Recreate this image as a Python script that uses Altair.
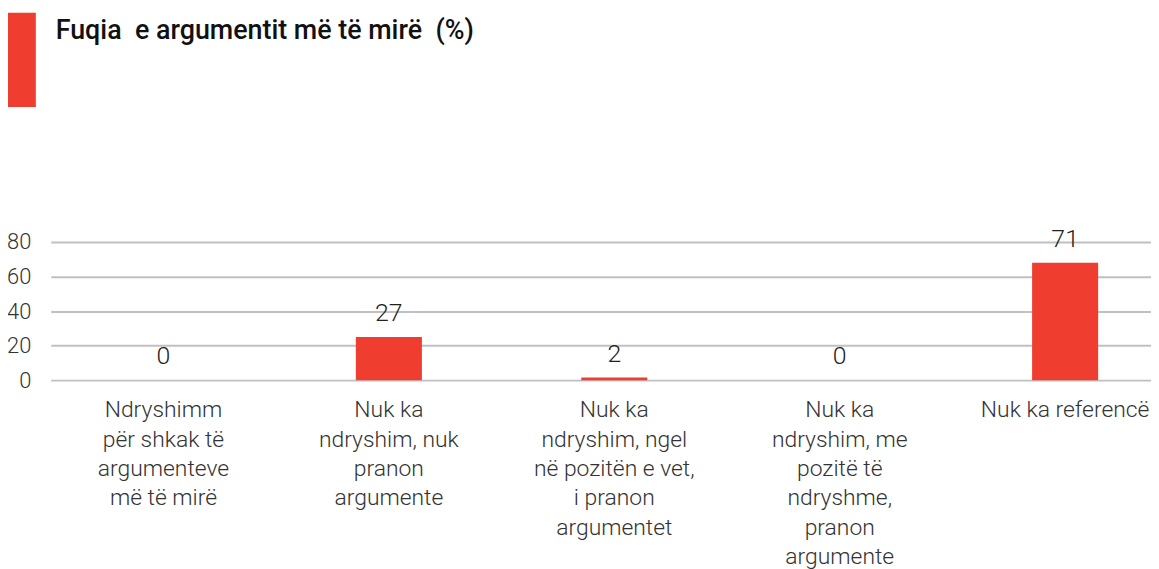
import altair as alt
import pandas as pd

series = "Fuqia\u00a0 e argumentit më të mirë\u00a0 (%)"
categories = [
    "Ndryshimm\npër shkak të\nargumenteve\nmë të mirë",
    "Nuk ka\nndryshim, nuk\npranon\nargumente",
    "Nuk ka\nndryshim, ngel\nnë pozitën e vet,\ni pranon\nargumentet",
    "Nuk ka\nndryshim, me\npozitë të\nndryshme,\npranon\nargumente",
    "Nuk ka referencë",
]
bar_values = [0, 25, 1.5, 0, 68]
value_labels = ["0", "27", "2", "0", "71"]
y_ticks = [0, 20, 40, 60, 80]

df = pd.DataFrame({
    "category": categories,
    "value": bar_values,
    "label": value_labels,
    "series": [series] * len(categories),
})

RED = "#EF3E2F"
TEXT = "#333333"
# custom symbol: unit box -1..1 maps to sqrt(symbolSize)
symbol_path = "M-1,-1.286L1,-1.286L1,5.5L-1,5.5Z"

x_enc = alt.X(
    "category:N",
    sort=categories,
    title=None,
    scale=alt.Scale(range=[-1, 1133], paddingInner=0.707, paddingOuter=0.3535),
    axis=alt.Axis(
        labelExpr="split(datum.label, '\\n')",
        labelAngle=0,
        ticks=False,
        domain=False,
        grid=False,
        labelLimit=400,
        labelOverlap=False,
        labelFont="Roboto",
        labelFontWeight=300,
        labelFontSize=23,
        labelLineHeight=29.5,
        labelColor=TEXT,
        labelPadding=19,
    ),
)
y_enc = alt.Y(
    "value:Q",
    title=None,
    scale=alt.Scale(domain=[0, 80], nice=False),
    axis=alt.Axis(
        values=y_ticks,
        tickCount=5,
        grid=True,
        gridColor="#C0C0C4",
        gridWidth=2,
        domain=False,
        ticks=False,
        labelOverlap=False,
        labelPadding=21,
        labelFont="Roboto",
        labelFontWeight=300,
        labelFontSize=22,
        labelColor=TEXT,
    ),
)

bars = alt.Chart(df).mark_bar().encode(
    x=x_enc,
    y=y_enc,
    color=alt.Color(
        "series:N",
        scale=alt.Scale(range=[RED]),
        legend=alt.Legend(
            title=None,
            orient="none",
            legendX=-44,
            legendY=-226.7,
            symbolType=symbol_path,
            symbolSize=784,
            symbolStrokeWidth=0,
            symbolOpacity=1,
            labelFont="Roboto",
            labelFontWeight=500,
            labelFontSize=27,
            labelColor="#111111",
            labelOffset=20,
            labelLimit=0,
            padding=0,
        ),
    ),
)

texts = alt.Chart(df).mark_text(
    dy=-24, baseline="middle", font="Roboto", fontSize=25, fontWeight=300, color="#222222"
).encode(
    x=x_enc,
    y=y_enc,
    text="label:N",
)

chart = alt.layer(bars, texts).resolve_axis(y="shared").properties(
    width=1091,
    height=139,
    autosize=alt.AutoSizeParams(type="none"),
    padding={"left": 44, "top": 233.7, "right": 15, "bottom": 188},
).configure_view(stroke=None)

chart.save("out.html", embed_options={"renderer": "svg", "actions": False})
